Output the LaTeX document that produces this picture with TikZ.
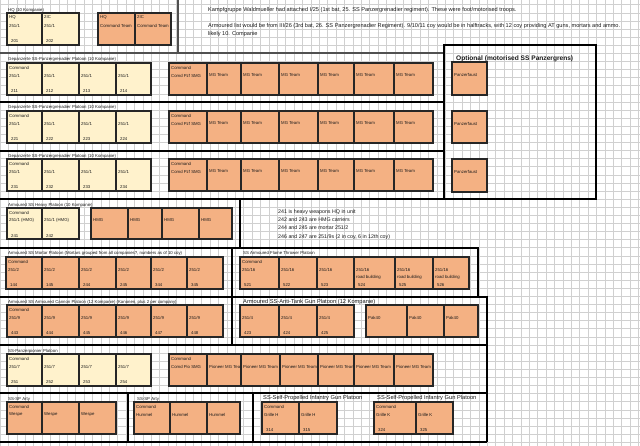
\documentclass[tikz,border=0pt]{standalone}
\usepackage{fontspec}
\setmainfont{Liberation Sans}
\definecolor{yelc}{HTML}{FFF2CC}
\definecolor{orgc}{HTML}{F4B183}
\definecolor{bordc}{HTML}{262626}
\definecolor{gridc}{HTML}{D0D0D0}
\definecolor{txtc}{HTML}{1A1A1A}
\definecolor{sepgc}{HTML}{505050}
\tikzset{
  yel/.style={draw=bordc, fill=yelc, line width=1.3pt, inner sep=0pt, outer sep=0pt},
  org/.style={draw=bordc, fill=orgc, line width=1.3pt, inner sep=0pt, outer sep=0pt},
  cell/.style={font=\fontsize{4.3}{5}\selectfont, anchor=west, inner sep=0pt, text=txtc},
  ttl/.style={font=\fontsize{4.3}{5}\selectfont, anchor=west, inner sep=0pt, text=txtc},
  ttlw/.style={font=\fontsize{5.7}{6.5}\selectfont, anchor=west, inner sep=0pt, text=txtc},
  note/.style={font=\fontsize{5.6}{6.5}\selectfont, anchor=west, inner sep=0pt, text=txtc},
  hnote/.style={font=\fontsize{5.3}{6.3}\selectfont, anchor=west, inner sep=0pt, text=txtc},
  opttl/.style={font=\bfseries\fontsize{6.6}{7.5}\selectfont, anchor=west, inner sep=0pt, text=txtc},
  gridline/.style={draw=gridc, line width=0.6pt},
  sepline/.style={draw=black, line width=1.2pt},
  sepgray/.style={draw=sepgc, line width=1.6pt}
}
% box: name, style, x1, x2, y1, y2, row1, row2, row4
\newcommand{\bx}[9]{%
  \node[#2, minimum width={(#4-#3)*1pt}, minimum height={(#6-#5)*1pt}, anchor=north west] (#1) at (#3,#5) {};
  \begin{scope}
    \clip (#3,#5) rectangle (#4,#6);
    \node[cell] (#1-a) at (#3+2,#5+4.5) {#7};
    \node[cell] (#1-b) at (#3+2,#5+12.5) {#8};
    \node[cell] (#1-d) at (#3+4,#5+28) {#9};
  \end{scope}
}
\newcommand{\gren}[4]{%
  \node[ttl] (#1t) at (8,#4) {Gepanzerte SS-Panzergrenadier Platoon (10 Kompanie)};
  \bx{#1y1}{yel}{7}{42}{#2}{#2+32}{Command}{251/1}{#31}
  \bx{#1y2}{yel}{42}{79}{#2}{#2+32}{}{251/1}{#32}
  \bx{#1y3}{yel}{79}{116}{#2}{#2+32}{}{251/1}{#33}
  \bx{#1y4}{yel}{116}{151}{#2}{#2+32}{}{251/1}{#34}
  \bx{#1o1}{org}{169}{207}{#2}{#2+32}{Command}{Comd Pzf SMG}{}
  \bx{#1o2}{org}{207}{241}{#2}{#2+32}{}{MG Team}{}
  \bx{#1o3}{org}{241}{279}{#2}{#2+32}{}{MG Team}{}
  \bx{#1o4}{org}{279}{318}{#2}{#2+32}{}{MG Team}{}
  \bx{#1o5}{org}{318}{354}{#2}{#2+32}{}{MG Team}{}
  \bx{#1o6}{org}{354}{394}{#2}{#2+32}{}{MG Team}{}
  \bx{#1o7}{org}{394}{433}{#2}{#2+32}{}{MG Team}{}
}
\begin{document}
\begin{tikzpicture}[x=1pt,y=-1pt]
\useasboundingbox (0,0) rectangle (640,446);
\fill[white] (0,0) rectangle (640,446);
% spreadsheet grid
\foreach \k in {0,...,55} \draw[gridline] (0,4.8+8.1*\k) -- (640,4.8+8.1*\k);
\foreach \k in {0,...,76} \draw[gridline] (0.1+8.4*\k,0) -- (0.1+8.4*\k,446);

% section lines
\draw[sepgray] (178,0) -- (178,53);
\draw[sepgray] (0,53) -- (444,53);
\draw[sepline] (0,102) -- (444,102);
\draw[sepline] (0,151) -- (444,151);
\draw[sepline] (444,45) rectangle (596,199);
\draw[sepline] (0,199) -- (444,199);
\draw[sepline] (240,199) -- (240,248);
\draw[sepline] (0,248) -- (478,248) -- (478,297);
\draw[sepline] (232,248) -- (232,345);
\draw[sepline] (0,297) -- (487,297) -- (487,442);
\draw[sepline] (0,345) -- (487,345);
\draw[sepline] (0,393) -- (487,393);
\draw[sepline] (0,442) -- (487,442);
\draw[sepline] (128,393) -- (128,442);
\draw[sepline] (253,393) -- (253,442);

% notes at top
\node[note] (n1) at (208,10) {Kampfgruppe Waldmueller had attached I/25 (1st bat, 25. SS Panzergrenadier regiment). These were foot/motorised troops.};
\node[note] (n2) at (208,26) {Armoured list would be from III/26 (3rd bat, 26. SS Panzergrenadier Regiment). 9/10/11 coy would be in halftracks, with 12 coy providing AT guns, mortars and ammo.};
\node[note] (n3) at (208,34) {likely 10. Companie};

% HQ
\node[ttl] (hqt) at (8,10) {HQ (10 Kompanie)};
\bx{hqa}{yel}{7}{42}{13}{45}{HQ}{251/1}{201}
\bx{hqb}{yel}{42}{79}{13}{45}{2IC}{251/1}{202}
\bx{hqc}{org}{98}{135}{13}{45}{HQ}{Command Team}{}
\bx{hqd}{org}{135}{171}{13}{45}{2IC}{Command Team}{}

% grenadier platoons
\gren{pa}{63}{21}{59}
\gren{pb}{111}{22}{107}
\gren{pc}{159}{23}{156}

% optional
\node[opttl] (optt) at (456,59) {Optional (motorised SS Panzergrens)};
\bx{pf1}{org}{452}{487}{62}{95}{}{Panzerfaust}{}
\bx{pf2}{org}{452}{487}{111}{143}{}{Panzerfaust}{}
\bx{pf3}{org}{452}{487}{159}{192}{}{Panzerfaust}{}

% heavy platoon
\node[ttl] (hvt) at (8,205) {Armoured SS Heavy Platoon (10 Kompanie)};
\bx{hv1}{yel}{7}{42}{208}{239}{Command}{251/1 (HMG)}{241}
\bx{hv2}{yel}{42}{79}{208}{239}{}{251/1 (HMG)}{242}
\bx{hv3}{org}{91}{128}{208}{239}{}{HMG}{}
\bx{hv4}{org}{128}{162}{208}{239}{}{HMG}{}
\bx{hv5}{org}{162}{199}{208}{239}{}{HMG}{}
\bx{hv6}{org}{199}{232}{208}{239}{}{HMG}{}
\node[hnote] (hn1) at (278,212) {241 is heavy weapons HQ in unit};
\node[hnote] (hn2) at (278,220) {242 and 243 are HMG carriers};
\node[hnote] (hn3) at (278,228) {244 and 245 are mortar 251/2};
\node[hnote] (hn4) at (278,237) {246 and 247 are 251/9s (2 in coy, 6 in 12th coy)};

% mortar platoon
\node[ttl] (mot) at (8,253) {Armoured SS Mortar Platoon (Mortars grouped from all companies?, numbers as of 10 coy)};
\bx{mo1}{org}{6}{42}{257}{289}{Command}{251/2}{144}
\bx{mo2}{org}{42}{79}{257}{289}{}{251/2}{145}
\bx{mo3}{org}{79}{116}{257}{289}{}{251/2}{244}
\bx{mo4}{org}{116}{151}{257}{289}{}{251/2}{245}
\bx{mo5}{org}{151}{187}{257}{289}{}{251/2}{344}
\bx{mo6}{org}{187}{223}{257}{289}{}{251/2}{345}

% flame platoon
\node[ttl] (flt) at (243,253) {SS Armoured Flame Thrower Platoon};
\bx{fl1}{org}{240}{279}{257}{289}{Command}{251/16}{521}
\bx{fl2}{org}{279}{317}{257}{289}{}{251/16}{522}
\bx{fl3}{org}{317}{354}{257}{289}{}{251/16}{523}
\bx{fl4}{org}{354}{395}{257}{289}{}{251/16}{524}
\bx{fl5}{org}{395}{433}{257}{289}{}{251/16}{525}
\bx{fl6}{org}{433}{469}{257}{289}{}{251/16}{526}
\node[cell] (fl4-c) at (356,277) {road building};
\node[cell] (fl5-c) at (397,277) {road building};
\node[cell] (fl6-c) at (435,277) {road building};

% cannon platoon
\node[ttl] (cat) at (8,302) {Armoured SS Armoured Cannon Platoon (12 Kompanie) (Kanonen, plus 2 per company)};
\bx{ca1}{org}{7}{42}{305}{337}{Command}{251/9}{443}
\bx{ca2}{org}{42}{79}{305}{337}{}{251/9}{444}
\bx{ca3}{org}{79}{116}{305}{337}{}{251/9}{445}
\bx{ca4}{org}{116}{151}{305}{337}{}{251/9}{446}
\bx{ca5}{org}{151}{187}{305}{337}{}{251/9}{447}
\bx{ca6}{org}{187}{223}{305}{337}{}{251/9}{448}

% anti-tank platoon
\node[ttlw] (att) at (243,302) {Armoured SS-Anti-Tank Gun Platoon (12 Kompanie)};
\bx{at1}{org}{240}{279}{305}{337}{}{251/4}{423}
\bx{at2}{org}{279}{317}{305}{337}{}{251/4}{424}
\bx{at3}{org}{317}{354}{305}{337}{}{251/4}{425}
\bx{at4}{org}{366}{407}{305}{337}{}{Pak40}{}
\bx{at5}{org}{407}{444}{305}{337}{}{Pak40}{}
\bx{at6}{org}{444}{478}{305}{337}{}{Pak40}{}

% pionier platoon
\node[ttl] (pit) at (8,351) {SS-Panzerpionier Platoon};
\bx{pi1}{yel}{7}{42}{354}{386}{Command}{251/7}{251}
\bx{pi2}{yel}{42}{79}{354}{386}{}{251/7}{252}
\bx{pi3}{yel}{79}{116}{354}{386}{}{251/7}{253}
\bx{pi4}{yel}{116}{151}{354}{386}{}{251/7}{254}
\bx{pio1}{org}{169}{207}{354}{386}{Command}{Comd Pio SMG}{}
\bx{pio2}{org}{207}{241}{354}{386}{}{Pioneer MG Team}{}
\bx{pio3}{org}{241}{280}{354}{386}{}{Pioneer MG Team}{}
\bx{pio4}{org}{280}{318}{354}{386}{}{Pioneer MG Team}{}
\bx{pio5}{org}{318}{354}{354}{386}{}{Pioneer MG Team}{}
\bx{pio6}{org}{354}{394}{354}{386}{}{Pioneer MG Team}{}
\bx{pio7}{org}{394}{433}{354}{386}{}{Pioneer MG Team}{}

% artillery
\node[ttl] (art1t) at (8,399) {SS-SP Arty};
\bx{ar1}{org}{7}{42}{402}{434}{Command}{Wespe}{}
\bx{ar2}{org}{42}{79}{402}{434}{}{Wespe}{}
\bx{ar3}{org}{79}{116}{402}{434}{}{Wespe}{}
\node[ttl] (art2t) at (137,399) {SS-SP Arty};
\bx{ar4}{org}{134}{170}{402}{434}{Command}{Hummel}{}
\bx{ar5}{org}{170}{207}{402}{434}{}{Hummel}{}
\bx{ar6}{org}{207}{240}{402}{434}{}{Hummel}{}
\node[ttlw] (gr1t) at (263,398) {SS-Self-Propelled Infantry Gun Platoon};
\bx{gr1}{org}{262}{299}{402}{434}{Command}{Grille H}{314}
\bx{gr2}{org}{299}{337}{402}{434}{}{Grille H}{315}
\node[ttlw] (gr2t) at (377,398) {SS-Self-Propelled Infantry Gun Platoon};
\bx{gr3}{org}{374}{416}{402}{434}{Command}{Grille K}{324}
\bx{gr4}{org}{416}{453}{402}{434}{}{Grille K}{325}
\end{tikzpicture}
\end{document}
